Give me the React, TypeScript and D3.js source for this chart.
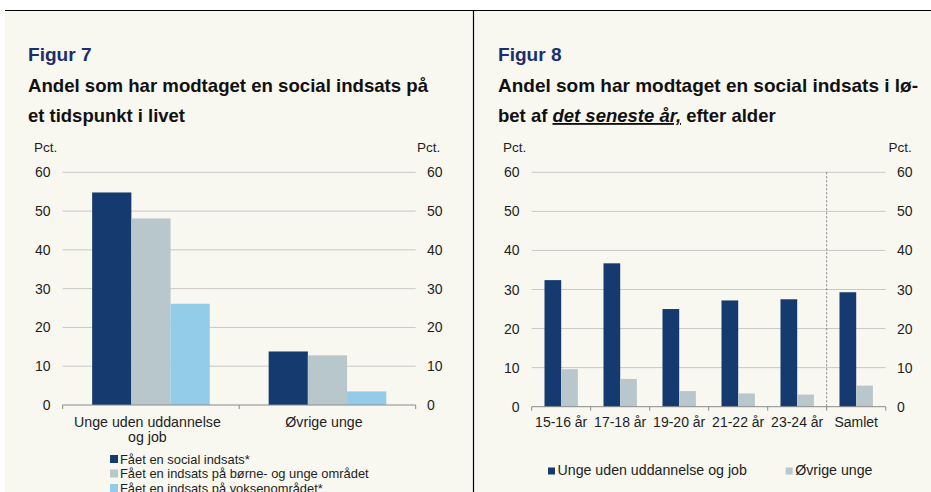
import React from "react";
import * as d3 from "d3";

const W = 931;
const H = 492;

// Figure 7 data
const fig7Categories = ["Unge uden uddannelse|og job", "Øvrige unge"];
const fig7Series = [
  "Fået en social indsats*",
  "Fået en indsats på børne- og unge området",
  "Fået en indsats på voksenområdet*",
];
const fig7Social = [54.8, 13.8];
const fig7BoernUnge = [48.1, 12.8];
const fig7Voksen = [26.1, 3.5];
const fig7Colors = ["#143a6f", "#b8c7cc", "#93cce9"];

// Figure 8 data
const fig8Categories = ["15-16 år", "17-18 år", "19-20 år", "21-22 år", "23-24 år", "Samlet"];
const fig8Series = ["Unge uden uddannelse og job", "Øvrige unge"];
const fig8UngeUden = [32.4, 36.7, 25.0, 27.2, 27.5, 29.3];
const fig8Oevrige = [9.6, 7.1, 4.0, 3.4, 3.1, 5.4];
const fig8Colors = ["#143a6f", "#b8c7cc"];

const yTicks = [0, 10, 20, 30, 40, 50, 60];

const FONT = "'Liberation Sans', Arial, sans-serif";
const BG = "#f8f7f0";
const GRID = "#c9c9c4";
const AXIS = "#8a8a8a";
const TXT = "#1e1e1e";

function Axes({ x0, x1, yScale, leftLabelX, rightLabelX, pctLeftX, pctRightX }: any) {
  return (
    <g>
      {yTicks.map((t) => (
        <g key={t}>
          {t > 0 && (
            <line x1={x0} x2={x1} y1={yScale(t)} y2={yScale(t)} stroke={GRID} strokeWidth={1} />
          )}
          <text x={leftLabelX} y={yScale(t)} dy="0.36em" textAnchor="end" fontSize={14} fill={TXT}>
            {t}
          </text>
          <text x={rightLabelX} y={yScale(t)} dy="0.36em" textAnchor="start" fontSize={14} fill={TXT}>
            {t}
          </text>
        </g>
      ))}
      <text x={pctLeftX} y={152} fontSize={13.5} fill={TXT}>Pct.</text>
      <text x={pctRightX} y={152} fontSize={13.5} fill={TXT}>Pct.</text>
    </g>
  );
}

function Fig7() {
  const x0 = 62.7, x1 = 415.7;
  const y = d3.scaleLinear().domain([0, 60]).range([405, 172.3]);
  const xb = d3.scaleBand().domain(fig7Categories).range([x0, x1]).paddingInner(0).paddingOuter(0);
  const groupW = 117.6;
  const inner = d3.scaleBand().domain(["0", "1", "2"]).range([0, groupW]);
  const innerOff = (xb.bandwidth() - groupW) / 2;
  const series = [fig7Social, fig7BoernUnge, fig7Voksen];
  return (
    <g>
      <Axes x0={x0} x1={x1} yScale={y} leftLabelX={50.5} rightLabelX={427} pctLeftX={34} pctRightX={417} />
      {fig7Categories.map((c, i) => (
        <g key={c}>
          {series.map((s, j) => (
            <rect
              key={j}
              x={(xb(c) as number) + innerOff + (inner(String(j)) as number)}
              width={inner.bandwidth()}
              y={y(s[i])}
              height={y(0) - y(s[i])}
              fill={fig7Colors[j]}
            />
          ))}
        </g>
      ))}
      <line x1={x0} x2={x1} y1={y(0)} y2={y(0)} stroke={AXIS} />
      {[x0, ...fig7Categories.map((c) => (xb(c) as number) + xb.bandwidth())].map((tx, i) => (
        <line key={i} x1={tx} x2={tx} y1={y(0)} y2={y(0) + 4} stroke={AXIS} />
      ))}
      {fig7Categories.map((c) => {
        const lines = c.split("|");
        const cx = (xb(c) as number) + xb.bandwidth() / 2 - 3.5;
        return (
          <text key={c} x={cx} y={426.5} textAnchor="middle" fontSize={14.2} fill={TXT}>
            {lines.map((l, k) => (
              <tspan key={k} x={cx} dy={k === 0 ? 0 : 15.5}>{l}</tspan>
            ))}
          </text>
        );
      })}
      {fig7Series.map((s, j) => (
        <g key={s}>
          <rect x={110} y={455 + j * 14.5} width={8} height={8} fill={fig7Colors[j]} />
          <text x={120} y={463.5 + j * 14.5} fontSize={12.9} fill={TXT}>{s}</text>
        </g>
      ))}
    </g>
  );
}

function Fig8() {
  const x0 = 531.7, x1 = 885.7;
  const y = d3.scaleLinear().domain([0, 60]).range([406.7, 172.3]);
  const xb = d3.scaleBand().domain(fig8Categories).range([x0, x1]);
  const pairW = 33.4;
  const inner = d3.scaleBand().domain(["0", "1"]).range([0, pairW]);
  const off = (xb.bandwidth() - pairW) / 2;
  const series = [fig8UngeUden, fig8Oevrige];
  const sepX = xb("Samlet") as number;
  return (
    <g>
      <Axes x0={x0} x1={x1} yScale={y} leftLabelX={519.5} rightLabelX={897} pctLeftX={503} pctRightX={888.5} />
      <line x1={sepX} x2={sepX} y1={y(60)} y2={y(0)} stroke="#666" strokeDasharray="2,2" strokeWidth={0.8} />
      {fig8Categories.map((c, i) => (
        <g key={c}>
          {series.map((s, j) => (
            <rect
              key={j}
              x={(xb(c) as number) + off + (inner(String(j)) as number)}
              width={inner.bandwidth()}
              y={y(s[i])}
              height={y(0) - y(s[i])}
              fill={fig8Colors[j]}
            />
          ))}
        </g>
      ))}
      <line x1={x0} x2={x1} y1={y(0)} y2={y(0)} stroke={AXIS} />
      {[x0, ...fig8Categories.map((c) => (xb(c) as number) + xb.bandwidth())].map((tx, i) => (
        <line key={i} x1={tx} x2={tx} y1={y(0)} y2={y(0) + 4} stroke={AXIS} />
      ))}
      {fig8Categories.map((c) => (
        <text key={c} x={(xb(c) as number) + xb.bandwidth() / 2} y={427} textAnchor="middle" fontSize={14} fill={TXT}>
          {c}
        </text>
      ))}
      {fig8Series.map((s, j) => {
        const lx = j === 0 ? 548 : 785.7;
        return (
          <g key={s}>
            <rect x={lx} y={467.5} width={7} height={7} fill={fig8Colors[j]} />
            <text x={lx + 9.5} y={475} fontSize={14.2} fill={TXT}>{s}</text>
          </g>
        );
      })}
    </g>
  );
}

export default function App() {
  return (
    <svg
      width={W}
      height={H}
      style={{ position: "absolute", left: 0, top: 0, display: "block" }}
      fontFamily={FONT}
    >
      <rect x={0} y={0} width={W} height={H} fill="#ffffff" />
      <rect x={5} y={10} width={W - 5} height={H - 10} fill={BG} />
      <line x1={5} x2={W} y1={10.5} y2={10.5} stroke="#000" strokeWidth={1.2} />
      <line x1={473.5} x2={473.5} y1={10} y2={H} stroke="#000" strokeWidth={1.2} />

      <text x={28} y={61} fontSize={19} fontWeight="bold" fill="#1b2f6c" textLength={63.5} lengthAdjust="spacingAndGlyphs">Figur 7</text>
      <text x={28} y={92} fontSize={18.5} fontWeight="bold" fill="#111" textLength={400} lengthAdjust="spacingAndGlyphs">Andel som har modtaget en social indsats på</text>
      <text x={28} y={122} fontSize={18.5} fontWeight="bold" fill="#111" textLength={157} lengthAdjust="spacingAndGlyphs">et tidspunkt i livet</text>

      <text x={498} y={61} fontSize={19} fontWeight="bold" fill="#1b2f6c" textLength={63.5} lengthAdjust="spacingAndGlyphs">Figur 8</text>
      <text x={498} y={92} fontSize={18.5} fontWeight="bold" fill="#111" textLength={420} lengthAdjust="spacingAndGlyphs">Andel som har modtaget en social indsats i lø-</text>
      <text x={498} y={122} fontSize={18.5} fontWeight="bold" fill="#111">
        bet af{" "}
        <tspan fontStyle="italic" textDecoration="underline">det seneste år,</tspan>
        {" "}efter alder
      </text>

      <Fig7 />
      <Fig8 />
    </svg>
  );
}
